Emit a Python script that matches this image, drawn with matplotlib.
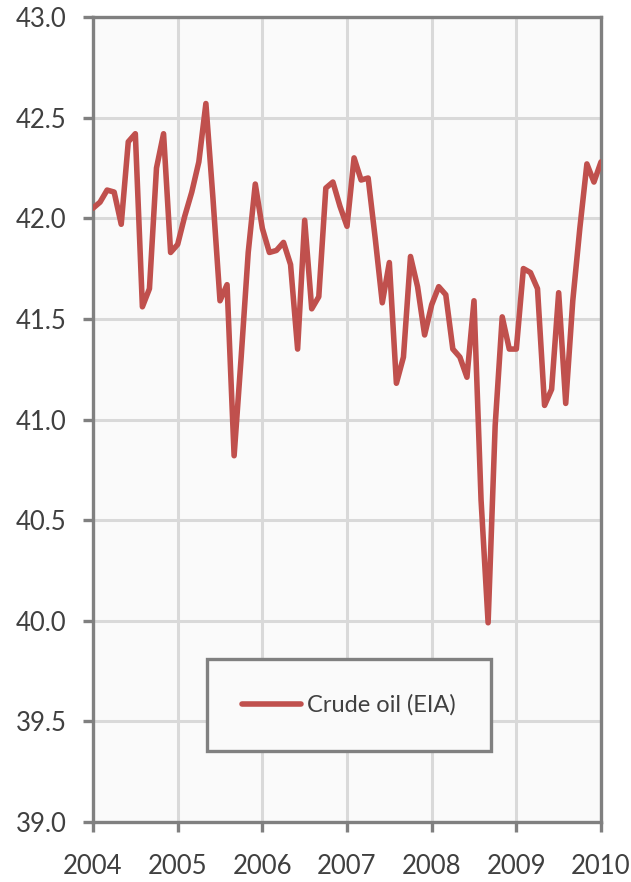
import matplotlib
matplotlib.use("Agg")
import matplotlib.pyplot as plt
import numpy as np

# monthly values, Jan 2004 .. Jan 2010
years = [2004, 2005, 2006, 2007, 2008, 2009, 2010]
crude_2004 = [42.05, 42.08, 42.14, 42.13, 41.97, 42.38, 42.42, 41.56, 41.65, 42.25, 42.42, 41.83]
crude_2005 = [41.87, 42.01, 42.13, 42.28, 42.57, 42.10, 41.59, 41.67, 40.82, 41.31, 41.83, 42.17]
crude_2006 = [41.95, 41.83, 41.84, 41.88, 41.77, 41.35, 41.99, 41.55, 41.61, 42.15, 42.18, 42.06]
crude_2007 = [41.96, 42.30, 42.19, 42.20, 41.90, 41.58, 41.78, 41.18, 41.31, 41.81, 41.66, 41.42]
crude_2008 = [41.57, 41.66, 41.62, 41.35, 41.31, 41.21, 41.59, 40.60, 39.99, 40.97, 41.51, 41.35]
crude_2009 = [41.35, 41.75, 41.73, 41.65, 41.07, 41.15, 41.63, 41.08, 41.59, 41.95, 42.27, 42.18]
crude_2010 = [42.28]

crude = np.array(crude_2004 + crude_2005 + crude_2006 + crude_2007
                 + crude_2008 + crude_2009 + crude_2010)
t = 2004 + np.arange(len(crude)) / 12.0

yticks = [39.0, 39.5, 40.0, 40.5, 41.0, 41.5, 42.0, 42.5, 43.0]

plt.rcParams['font.family'] = ['Lato', 'DejaVu Sans']

fig = plt.figure(figsize=(6.31, 8.82), dpi=100)
ax = fig.add_axes([93 / 631, 1 - 822 / 882, 508 / 631, 805 / 882])
ax.set_facecolor("#fafafa")

ax.plot(t, crude, color="#c0504d", lw=4.0, solid_joinstyle="round",
        solid_capstyle="round", label="Crude oil (EIA)", zorder=3)

ax.set_xlim(2004, 2010)
ax.set_ylim(39, 43)
ax.set_xticks(years)
ax.set_yticks(yticks)
ax.set_yticklabels([f"{v:.1f}" for v in yticks])
ax.grid(True, color="#d9d9d9", lw=2.2)
ax.set_axisbelow(True)

for s in ax.spines.values():
    s.set_color("#808080")
    s.set_linewidth(2.4)

ax.tick_params(axis="both", colors="#808080", width=2.4, length=7,
               labelcolor="#404040", labelsize=18.5)
ax.tick_params(axis="y", pad=12)
ax.tick_params(axis="x", pad=16)

leg = ax.legend(loc="center", bbox_to_anchor=(0.504, 0.145), fontsize=17,
                handlelength=2.5, handletextpad=0.25, borderpad=1.5,
                fancybox=False, framealpha=1, labelcolor="#404040")
leg.get_frame().set_edgecolor("#808080")
leg.get_frame().set_linewidth(2.4)
leg.get_frame().set_facecolor("#fafafa")
for ln in leg.get_lines():
    ln.set_linewidth(4.0)

fig.savefig("out.png", dpi=100)
